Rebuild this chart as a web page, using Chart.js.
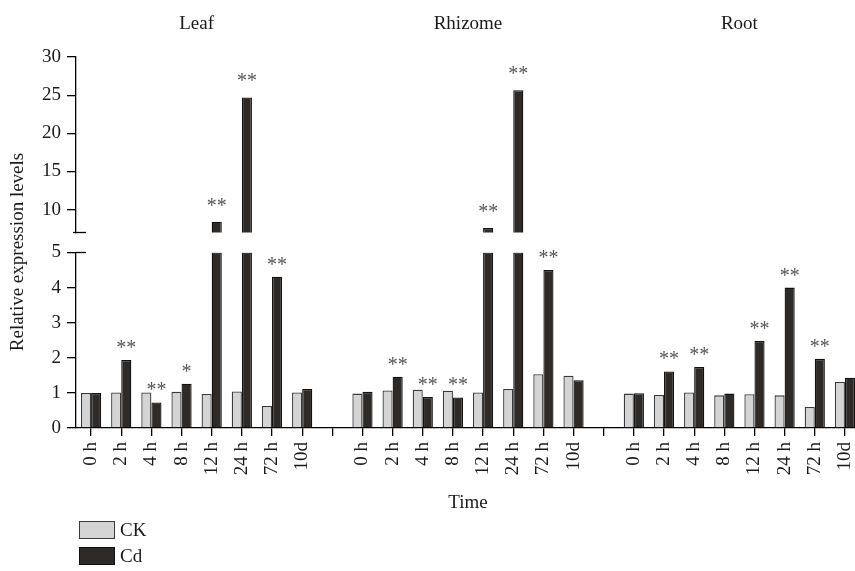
<!DOCTYPE html>
<html><head><meta charset="utf-8">
<script src="https://cdn.jsdelivr.net/npm/chart.js@4/dist/chart.umd.min.js"></script>
<style>
html,body{margin:0;padding:0;background:#fff;overflow:hidden;width:855px;height:571px;}
#wrap{position:absolute;left:0;top:0;width:862px;height:571px;}
#c{display:block;width:862px;height:571px;}
#legend{position:absolute;left:79px;top:517px;font-family:'Liberation Serif',serif;font-size:19px;color:#1a1a1a;}
.item{display:flex;align-items:center;height:26px;}
.box{width:36px;height:18px;box-sizing:border-box;margin-right:5px;}
</style></head><body>
<div id="wrap"><canvas id="c" width="862" height="571"></canvas></div>
<div id="legend"></div>
<script>
// ---- data ----
const tissues = ['Leaf', 'Rhizome', 'Root'];
const times = ['0 h', '2 h', '4 h', '8 h', '12 h', '24 h', '72 h', '10d'];

const ckLeaf    = [1.00, 1.01, 1.01, 1.03, 0.97, 1.04, 0.63, 1.01];
const cdLeaf    = [1.00, 1.94, 0.73, 1.26, 8.40, 24.70, 4.31, 1.11];
const ckRhizome = [0.98, 1.07, 1.09, 1.06, 1.01, 1.11, 1.53, 1.49];
const cdRhizome = [1.03, 1.46, 0.88, 0.87, 7.60, 25.65, 4.50, 1.36];
const ckRoot    = [0.98, 0.94, 1.01, 0.93, 0.96, 0.93, 0.60, 1.31];
const cdRoot    = [0.99, 1.61, 1.74, 0.98, 2.48, 4.00, 1.97, 1.43];

const sigLeaf    = ['', '**', '**', '*', '**', '**', '**', ''];
const sigRhizome = ['', '**', '**', '**', '**', '**', '**', ''];
const sigRoot    = ['', '**', '**', '', '**', '**', '**', ''];

const lowerTicks = [0, 1, 2, 3, 4, 5];
const upperTicks = [10, 15, 20, 25, 30];
const LOWER_MAX = 5;   // top of lower panel
const UPPER_MIN = 7;   // bottom of upper panel (axis break)
const UPPER_MAX = 30;

// ---- build category table (gap category between tissues) ----
const labels = [], ck = [], cd = [], sig = [];
[[ckLeaf, cdLeaf, sigLeaf], [ckRhizome, cdRhizome, sigRhizome], [ckRoot, cdRoot, sigRoot]].forEach((g, gi) => {
  if (gi > 0) { labels.push(''); ck.push(null); cd.push(null); sig.push(''); }
  times.forEach((t, i) => { labels.push(t); ck.push(g[0][i]); cd.push(g[1][i]); sig.push(g[2][i]); });
});
const groupSize = times.length + 1;
const cdLow = cd.map(v => v == null ? null : Math.min(v, LOWER_MAX));
const cdHigh = cd.map(v => (v != null && v > UPPER_MIN) ? v : null);

const FONT = 'Liberation Serif';
const FS = 19;
const TXT = '#1a1a1a';

const decor = {
  id: 'decor',
  afterDraw(chart) {
    const ctx = chart.ctx;
    const a = chart.chartArea;
    const yl = chart.scales.y, yt = chart.scales.yTop;
    ctx.save();
    // axis break marks
    ctx.strokeStyle = '#000'; ctx.lineWidth = 1.3;
    const yb = yt.getPixelForValue(UPPER_MIN);
    ctx.beginPath(); ctx.moveTo(a.left - 3, yb); ctx.lineTo(a.left + 10, yb); ctx.stroke();
    const y5 = yl.getPixelForValue(LOWER_MAX);
    ctx.beginPath(); ctx.moveTo(a.left, y5); ctx.lineTo(a.left + 10, y5); ctx.stroke();
    // y title
    ctx.fillStyle = TXT;
    ctx.font = FS + 'px "' + FONT + '"';
    ctx.textAlign = 'center'; ctx.textBaseline = 'middle';
    ctx.translate(18, 252); ctx.rotate(-Math.PI / 2);
    ctx.fillText('Relative expression levels', 0, 0);
    ctx.restore();
  },
  afterDatasetsDraw(chart) {
    const ctx = chart.ctx;
    const mLow = chart.getDatasetMeta(1), mHigh = chart.getDatasetMeta(2);
    ctx.save();
    ctx.fillStyle = '#555';
    ctx.font = '20px "' + FONT + '"';
    ctx.textAlign = 'center'; ctx.textBaseline = 'alphabetic';
    sig.forEach((s, i) => {
      if (!s) return;
      const high = cdHigh[i] != null;
      const el = (high ? mHigh : mLow).data[i];
      ctx.fillText(s, el.x, el.y - (high ? 10 : 6));
    });
    ctx.restore();
  }
};

const tickFont = { family: FONT, size: FS };

const chart = new Chart(document.getElementById('c'), {
  type: 'bar',
  data: {
    labels: labels,
    datasets: [
      { label: 'CK', data: ck, stack: 'ck', yAxisID: 'y', xAxisID: 'x',
        backgroundColor: '#d4d4d4', borderColor: '#3a3a3a', borderWidth: 1.3,
        categoryPercentage: 0.67, barPercentage: 1.0 },
      { label: 'Cd', data: cdLow, stack: 'cd', yAxisID: 'y', xAxisID: 'x',
        backgroundColor: '#2e2a27', borderColor: '#111', borderWidth: 1.3,
        categoryPercentage: 0.67, barPercentage: 1.0 },
      { label: 'Cd (upper)', data: cdHigh, stack: 'cd', yAxisID: 'yTop', xAxisID: 'x',
        backgroundColor: '#2e2a27', borderColor: '#111', borderWidth: 1.3,
        categoryPercentage: 0.67, barPercentage: 1.0 }
    ]
  },
  options: {
    responsive: false, animation: false, devicePixelRatio: 1,
    layout: { padding: { left: 0, right: 2, top: 0, bottom: 57 } },
    plugins: { legend: { display: false }, tooltip: { enabled: false } },
    scales: {
      x: {
        type: 'category', position: 'bottom', offset: true,
        grid: { display: true, drawOnChartArea: false, drawTicks: true, tickLength: 8, color: '#000', lineWidth: 1.3, offset: false },
        border: { color: '#000', width: 1.3 },
        ticks: { autoSkip: false, minRotation: 90, maxRotation: 90, padding: 6, color: TXT, font: tickFont },
        title: { display: true, text: 'Time', color: TXT, font: tickFont, padding: { top: 0, bottom: 0 } },
        afterFit(s) { s.height = 86; s.paddingLeft = 0; s.paddingRight = 0; }
      },
      x2: {
        type: 'linear', position: 'top', offset: false, min: -0.5, max: labels.length - 0.5,
        grid: { display: false }, border: { display: false },
        afterBuildTicks(s) { s.ticks = tissues.map((t, i) => ({ value: i * groupSize + (times.length - 1) / 2 })); },
        ticks: { autoSkip: false, maxRotation: 0, padding: 14, color: TXT, font: tickFont,
          callback: (v) => tissues[Math.round((v - (times.length - 1) / 2) / groupSize)] },
        afterFit(s) { s.height = 57; s.paddingLeft = 0; s.paddingRight = 0; }
      },
      y: {
        type: 'linear', position: 'left', stack: 'v', stackWeight: 175.5,
        min: 0, max: LOWER_MAX,
        afterBuildTicks(s) { s.ticks = lowerTicks.map(v => ({ value: v })); },
        grid: { drawOnChartArea: false, drawTicks: true, tickLength: 9, color: '#000', lineWidth: 1.3 },
        border: { color: '#000', width: 1.3 },
        ticks: { autoSkip: false, padding: 6, color: TXT, font: tickFont },
        afterFit(s) { s.width = 76; }
      },
      gap: {
        type: 'linear', position: 'left', stack: 'v', stackWeight: 20,
        min: 0, max: 1,
        grid: { display: false }, border: { display: false }, ticks: { display: false },
        afterFit(s) { s.width = 76; }
      },
      yTop: {
        type: 'linear', position: 'left', stack: 'v', stackWeight: 175.5,
        min: UPPER_MIN, max: UPPER_MAX,
        afterBuildTicks(s) { s.ticks = upperTicks.map(v => ({ value: v })); },
        grid: { drawOnChartArea: false, drawTicks: true, tickLength: 9, color: '#000', lineWidth: 1.3 },
        border: { color: '#000', width: 1.3 },
        ticks: { autoSkip: false, padding: 6, color: TXT, font: tickFont },
        afterFit(s) { s.width = 76; }
      }
    }
  },
  plugins: [decor]
});

// ---- legend (HTML, from the datasets) ----
const leg = document.getElementById('legend');
chart.data.datasets.slice(0, 2).forEach(ds => {
  const it = document.createElement('div'); it.className = 'item';
  const b = document.createElement('div'); b.className = 'box';
  b.style.background = ds.backgroundColor; b.style.border = '1.5px solid ' + ds.borderColor;
  const t = document.createElement('span'); t.textContent = ds.label;
  it.appendChild(b); it.appendChild(t); leg.appendChild(it);
});
</script>
</body></html>
